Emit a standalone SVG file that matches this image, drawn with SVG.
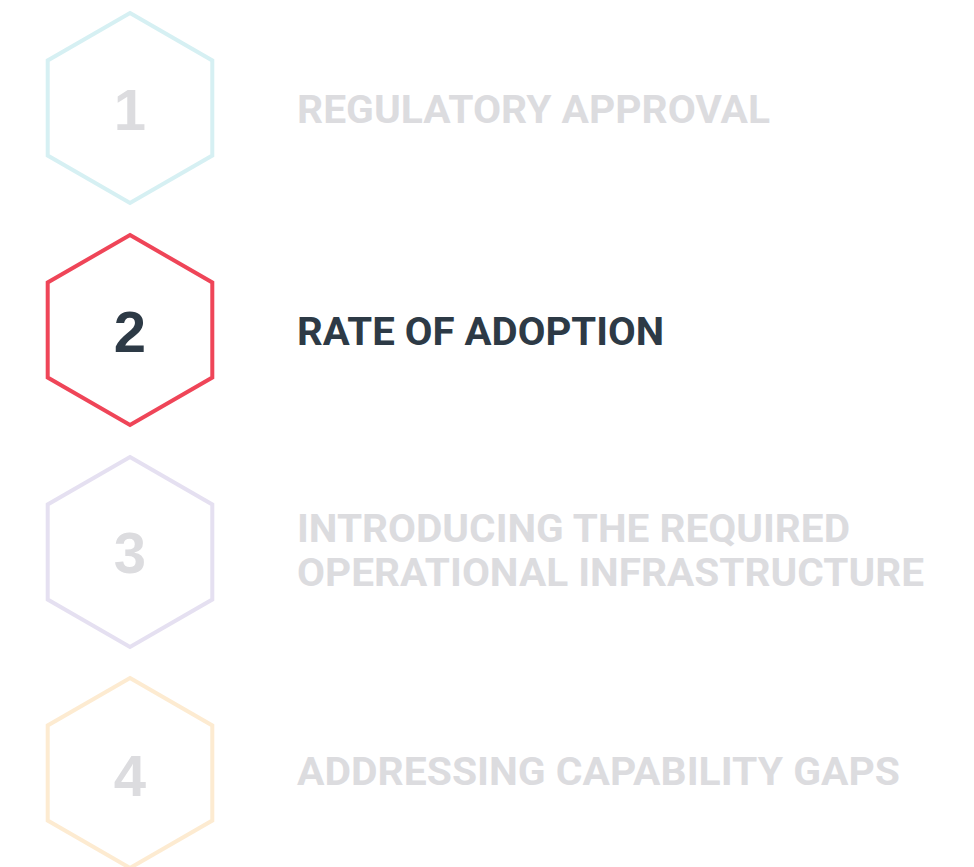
<svg xmlns="http://www.w3.org/2000/svg" xmlns:xlink="http://www.w3.org/1999/xlink" width="974" height="867" viewBox="0 0 974 867">
  <style>
    .hex { fill: none; stroke-width: 4; stroke-linejoin: miter; }
    .num { font-family: "Liberation Sans", Arial, sans-serif; font-weight: 700; font-size: 58px; text-anchor: middle; }
    .label { font-family: Roboto, "Liberation Sans", sans-serif; font-weight: 700; font-size: 38px; }
    .muted { fill: #dcdcdf; }
    .active { fill: #2d3a46; }
  </style>
  <defs>
    <!-- pointy-top hexagon, radius 95, centred on the origin -->
    <polygon id="hexShape" points="0,-95 82.3,-47.5 82.3,47.5 0,95 -82.3,47.5 -82.3,-47.5"/>
  </defs>
  <rect width="974" height="867" fill="#ffffff"/>

  <g id="connectors"/>

  <g id="step-1">
    <use xlink:href="#hexShape" href="#hexShape" class="hex" stroke="#d6f0f3" transform="translate(130,108)"/>
    <text class="num muted" x="130" y="130">1</text>
    <text class="label muted" x="297" y="123" textLength="473" lengthAdjust="spacingAndGlyphs">REGULATORY APPROVAL</text>
  </g>

  <g id="step-2">
    <use xlink:href="#hexShape" href="#hexShape" class="hex" stroke="#ef4558" transform="translate(130,330)"/>
    <text class="num active" x="130" y="352">2</text>
    <text class="label active" x="297" y="345" textLength="367" lengthAdjust="spacingAndGlyphs">RATE OF ADOPTION</text>
  </g>

  <g id="step-3">
    <use xlink:href="#hexShape" href="#hexShape" class="hex" stroke="#e5e0f1" transform="translate(130,552)"/>
    <text class="num muted" x="130" y="573">3</text>
    <text class="label muted" x="297" y="542" textLength="553" lengthAdjust="spacingAndGlyphs">INTRODUCING THE REQUIRED</text>
    <text class="label muted" x="297" y="586" textLength="627" lengthAdjust="spacingAndGlyphs">OPERATIONAL INFRASTRUCTURE</text>
  </g>

  <g id="step-4">
    <use xlink:href="#hexShape" href="#hexShape" class="hex" stroke="#fdebd1" transform="translate(130,773)"/>
    <text class="num muted" x="130" y="796">4</text>
    <text class="label muted" x="297" y="785" textLength="603" lengthAdjust="spacingAndGlyphs">ADDRESSING CAPABILITY GAPS</text>
  </g>
</svg>
